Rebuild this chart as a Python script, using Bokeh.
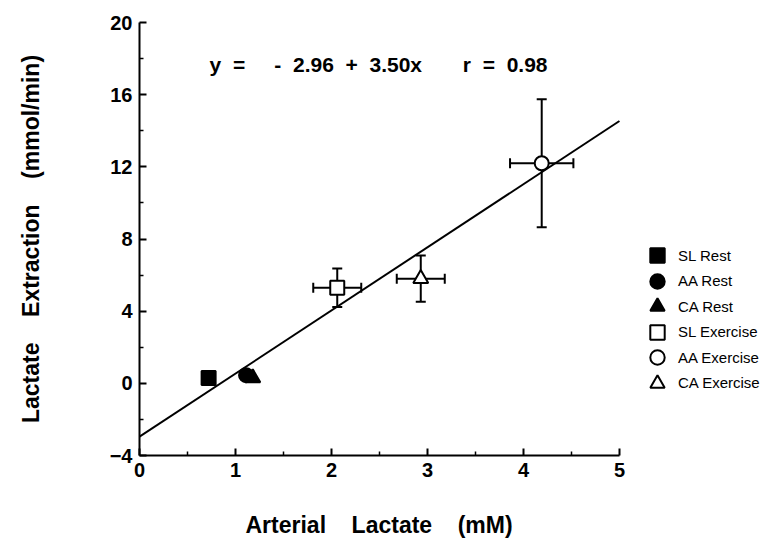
from bokeh.plotting import figure
from bokeh.models import (ColumnDataSource, Range1d, Whisker, TeeHead, Legend,
                          LegendItem, FixedTicker, Title)
from bokeh.embed import file_html
from bokeh.resources import INLINE
from bokeh.core.properties import value

# ---- data ----
groups = ["SL Rest", "AA Rest", "CA Rest", "SL Exercise", "AA Exercise", "CA Exercise"]
markers = ["square", "circle", "triangle", "square", "circle", "triangle"]
filled = [True, True, True, False, False, False]
lactate = [0.72, 1.11, 1.18, 2.06, 4.19, 2.93]
extraction = [0.30, 0.45, 0.30, 5.30, 12.20, 5.80]
lactate_err = [0.0, 0.0, 0.0, 0.25, 0.33, 0.25]
extraction_err = [0.0, 0.0, 0.0, 1.07, 3.55, 1.28]

intercept = -2.96
slope = 3.50
r_value = 0.98
fit_x = [0.0, 5.0]

x_ticks = [0, 1, 2, 3, 4, 5]
x_minor = [0.5, 1.5, 2.5, 3.5, 4.5]
y_ticks = [-4, 0, 4, 8, 12, 16, 20]
y_minor = [-2, 2, 6, 10, 14, 18]

FONT = "Liberation Sans"
NB = "\u00a0"
gap = NB * 4

# the frame runs past x = 5 so that the legend (right of the axis) is not clipped;
# the axis itself is bounded to 0..5
p = figure(width=762, height=538, output_backend="svg", toolbar_location=None,
           x_range=Range1d(0, 6.49), y_range=Range1d(-4, 20),
           min_border_left=139, min_border_right=0,
           min_border_top=22, min_border_bottom=83)
p.outline_line_color = None
p.grid.grid_line_color = None
p.background_fill_color = "white"

# regression line
fit_y = [intercept + slope * x for x in fit_x]
p.line(fit_x, fit_y, line_color="black", line_width=2)

# error bars
eb = [i for i in range(len(groups)) if lactate_err[i] > 0 or extraction_err[i] > 0]
err_src = ColumnDataSource(dict(
    x=[lactate[i] for i in eb],
    y=[extraction[i] for i in eb],
    xl=[lactate[i] - lactate_err[i] for i in eb],
    xu=[lactate[i] + lactate_err[i] for i in eb],
    yl=[extraction[i] - extraction_err[i] for i in eb],
    yu=[extraction[i] + extraction_err[i] for i in eb],
))
for dim, base, lo, up in (("height", "x", "yl", "yu"), ("width", "y", "xl", "xu")):
    w = Whisker(source=err_src, base=base, lower=lo, upper=up, dimension=dim,
                line_color="black", line_width=2,
                upper_head=TeeHead(size=10, line_width=2, line_color="black"),
                lower_head=TeeHead(size=10, line_width=2, line_color="black"))
    p.add_layout(w)

# points (CA Rest drawn before AA Rest so the circle sits on top, as in the figure)
draw_order = [0, 2, 1, 3, 4, 5]
renderers = {}
for i in draw_order:
    size = 15 if markers[i] == "triangle" else 14
    renderers[i] = p.scatter([lactate[i]], [extraction[i]], marker=markers[i], size=size,
                             fill_color="black" if filled[i] else "white",
                             line_color="black", line_width=2)

# equation text
eq = (f"y{NB}{NB}={NB}{NB}{NB}{NB}{NB}-{NB}{NB}{abs(intercept):.2f}{NB}{NB}+{NB}{NB}"
      f"{slope:.2f}x{NB}{NB}{NB}{NB}{NB}{NB}{NB}r{NB}{NB}={NB}{NB}{r_value:.2f}")
p.text(x=[2.49], y=[17.65], text=[eq], text_font=value(FONT), text_font_size="21px",
       text_font_style="bold", text_align="center", text_baseline="middle",
       text_color="black")

# legend: one entry per Legend so rows can sit closer than the marker box
row_gap = 25.5
first_row_offset = 182
for k, g in enumerate(groups):
    lg = Legend(items=[LegendItem(label=g, renderers=[renderers[k]])],
                location=(500, first_row_offset - k * row_gap),
                glyph_width=36, glyph_height=36, padding=0, margin=0, spacing=0,
                label_standoff=3, label_text_font=FONT, label_text_font_size="15px",
                label_text_color="black", label_height=20,
                background_fill_alpha=0, border_line_color=None)
    p.add_layout(lg, "center")

# axes
for ax in (p.xaxis[0], p.yaxis[0]):
    ax.axis_line_width = 2
    ax.axis_line_color = "black"
    ax.major_tick_in = 7
    ax.major_tick_out = 0
    ax.minor_tick_in = 4
    ax.minor_tick_out = 0
    ax.major_tick_line_width = 2
    ax.minor_tick_line_width = 1.5
    ax.major_label_text_font = FONT
    ax.major_label_text_font_size = "20px"
    ax.major_label_text_font_style = "bold"
    ax.major_label_text_color = "black"
    ax.axis_label_text_font = FONT
    ax.axis_label_text_font_size = "23px"
    ax.axis_label_text_font_style = "bold"
    ax.axis_label_text_color = "black"

p.xaxis.bounds = (0, 5)
p.xaxis.ticker = FixedTicker(ticks=x_ticks, minor_ticks=x_minor)
p.yaxis.ticker = FixedTicker(ticks=y_ticks, minor_ticks=y_minor)
p.yaxis.axis_label = f"Lactate{gap}Extraction{gap}(mmol/min)"
p.xaxis.major_label_standoff = 7
p.yaxis.major_label_standoff = 7
p.yaxis.axis_label_standoff = 63

# x-axis title, centred under the 0..5 axis (not under the wider frame);
# the leading blank line sets it lower, below the tick labels, as in the figure
xtitle = Title(text=f"\nArterial{gap}Lactate{gap}(mM)", align="left", offset=106,
               standoff=0, text_font=FONT, text_font_size="23px",
               text_font_style="bold", text_color="black", text_line_height=1.2)
p.add_layout(xtitle, "below")

open("out.html", "w").write(file_html(p, INLINE))
